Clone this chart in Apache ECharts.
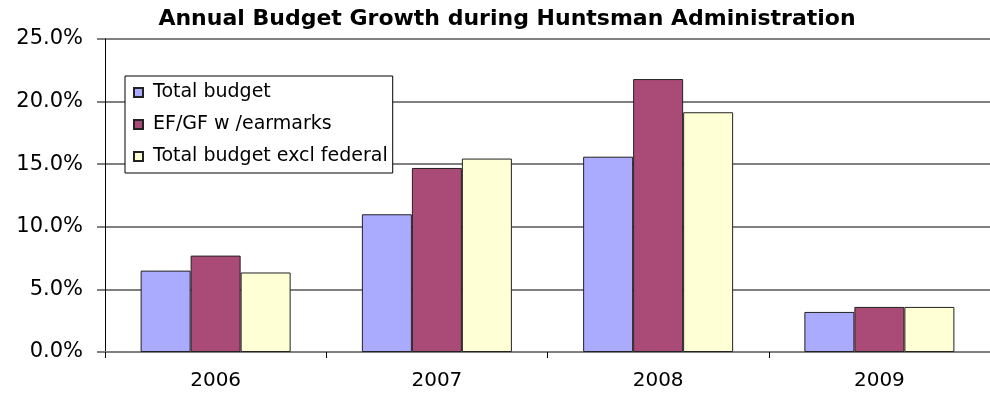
<!DOCTYPE html>
<html>
<head>
<meta charset="utf-8">
<script src="https://cdn.jsdelivr.net/npm/echarts@6/dist/echarts.min.js"></script>
<style>
  html, body { margin: 0; padding: 0; background: #fff; }
  #grafico { width: 990px; height: 394px; }
</style>
</head>
<body>
<div id="grafico"></div>
<script>
// datos (crecimiento anual, %)
const years = ['2006', '2007', '2008', '2009']
const totalBudget = [6.5, 11.0, 15.6, 3.2]
const efgfEarmarks = [7.7, 14.7, 21.8, 3.6]
const totalExclFederal = [6.35, 15.45, 19.15, 3.6]
const seriesNames = ['Total budget', 'EF/GF w /earmarks', 'Total budget excl federal']

const chart = echarts.init(document.getElementById('grafico'))

const font = 'DejaVu Sans, Arial, sans-serif'

function barSerie(name, data, color) {
  return {
    name: name,
    type: 'bar',
    data: data,
    barWidth: 50,
    barGap: '0%',
    itemStyle: {
      color: color,
      borderColor: '#222',
      borderWidth: 1
    }
  }
}

let option = {
  animation: false,
  title: {
    text: 'Annual Budget Growth during Huntsman Administration',
    left: 502,
    textAlign: 'center',
    top: 3,
    textStyle: {
      fontFamily: font,
      fontSize: 22,
      fontWeight: 'bold',
      color: '#000'
    }
  },
  legend: {
    orient: 'vertical',
    left: 125,
    top: 76,
    padding: [7, 5, 7, 8],
    backgroundColor: '#fff',
    borderColor: '#000',
    borderWidth: 1,
    itemWidth: 9,
    itemHeight: 9,
    itemGap: 13,
    icon: 'rect',
    data: seriesNames,
    textStyle: {
      fontFamily: font,
      fontSize: 19,
      color: '#000',
      lineHeight: 18,
      padding: [0, 0, 0, 5]
    }
  },
  grid: {
    left: 105,
    right: 0,
    top: 39,
    bottom: 42,
    containLabel: false
  },
  xAxis: {
    type: 'category',
    data: years,
    axisLine: { lineStyle: { color: '#808080', width: 2 } },
    axisTick: { show: true, length: 6, lineStyle: { color: '#000', width: 1 } },
    axisLabel: {
      fontFamily: font,
      fontSize: 20,
      color: '#000',
      margin: 19
    },
    splitLine: { show: false }
  },
  yAxis: {
    type: 'value',
    min: 0,
    max: 25,
    interval: 5,
    axisLine: { show: true, lineStyle: { color: '#000', width: 1 } },
    axisTick: { show: true, length: 8, lineStyle: { color: '#808080', width: 2 } },
    axisLabel: {
      fontFamily: font,
      fontSize: 21,
      color: '#000',
      margin: 22,
      formatter: v => v.toFixed(1) + '%'
    },
    splitLine: { lineStyle: { color: '#808080', width: 2 } }
  },
  series: [
    barSerie(seriesNames[0], totalBudget, '#AAAAFF'),
    barSerie(seriesNames[1], efgfEarmarks, '#AA4A76'),
    barSerie(seriesNames[2], totalExclFederal, '#FFFFD6')
  ]
}

chart.setOption(option)
</script>
</body>
</html>
